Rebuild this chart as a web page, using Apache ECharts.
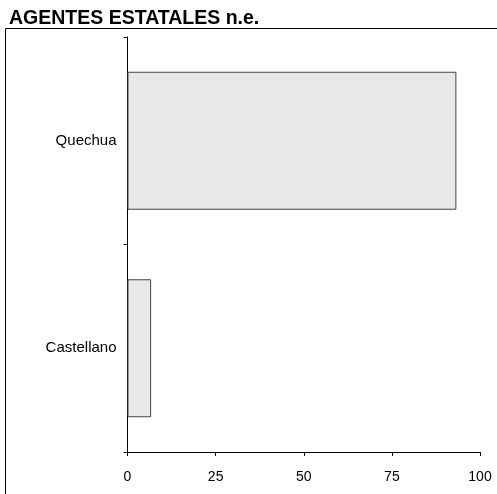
<!DOCTYPE html>
<html>
<head>
<meta charset="utf-8">
<script src="https://cdn.jsdelivr.net/npm/echarts@6/dist/echarts.min.js"></script>
<style>
  html, body { margin: 0; padding: 0; background: #fff; }
  #chart { width: 497px; height: 494px; }
</style>
</head>
<body>
<div id="chart"></div>
<script>
// data (percent)
const categories = ['Castellano', 'Quechua'];
const values = [6.7, 93.3];
const xTicks = [0, 25, 50, 75, 100];

const myChart = echarts.init(document.getElementById('chart'));
const option = {
  animation: false,
  textStyle: { fontFamily: 'Liberation Sans, Arial, sans-serif' },
  title: {
    text: 'AGENTES ESTATALES n.e.',
    left: 9,
    top: 9,
    padding: 0,
    textStyle: { fontSize: 19.5, fontWeight: 'bold', color: '#000' }
  },
  graphic: [{
    type: 'rect',
    shape: { x: 5.5, y: 28.5, width: 600, height: 600 },
    style: { fill: 'none', stroke: '#000', lineWidth: 1 },
    silent: true
  }],
  grid: { left: 127.5, right: 17, top: 37, bottom: 42 },
  xAxis: {
    type: 'value',
    min: xTicks[0],
    max: xTicks[xTicks.length - 1],
    interval: 25,
    splitLine: { show: false },
    axisLine: { show: true, lineStyle: { color: '#000', width: 1 } },
    axisTick: { show: true, length: 4, lineStyle: { color: '#000' } },
    axisLabel: { color: '#000', fontSize: 14, margin: 18 }
  },
  yAxis: {
    type: 'category',
    data: categories,
    axisLine: { show: true, lineStyle: { color: '#000', width: 1 } },
    axisTick: { show: true, length: 4, lineStyle: { color: '#000' } },
    axisLabel: { color: '#000', fontSize: 15, margin: 11 }
  },
  series: [{
    type: 'bar',
    data: values,
    barCategoryGap: '33.5%',
    itemStyle: { color: '#e8e8e8', borderColor: '#444', borderWidth: 1 }
  }]
};
myChart.setOption(option);
</script>
</body>
</html>
